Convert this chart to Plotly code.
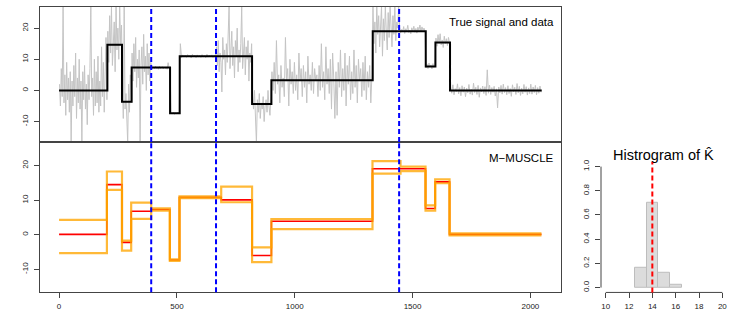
import plotly.graph_objects as go

W, H = 747, 312

# ---------------- data ----------------
# true piecewise-constant signal
signal_bounds = [0, 205, 267, 308, 471, 512, 819, 901, 1331, 1556, 1597, 1659, 2048]
signal_levels = [0, 14.64, -3.66, 7.32, -7.32, 10.98, -4.39, 3.29, 19.03, 7.69, 15.37, 0]

data_bounds = [0, 205, 267, 308, 391, 473, 512, 666, 819, 901, 1330, 1443, 1555, 1597, 1659, 2048]
data_values = [
    [2, -5, 7, -2, 27, -4, 5, -8, 9, -3, 4, -7, 6, -17, 3, -5, 8, -2, 12, -9,
     4, -4, 10, -6, 3, -17, 6, -3, 8, -6, 2, -11, 5, -3, 7, 27, -2, 4, -8, 10,
     -5, 6, -4, 11, -7, 3, -5, 14, -2, 9, -7, 5, 17, -3],
    [19, 9, 24, 12, 27, 8, 17, 22, 6, 27, 13, 20, 10, 27, 15, 21],
    [3, -9, 27, -6, -1, -12, -17, 2, -7, 5, -4],
    [12, 3, 15, 6, 17, 1, 10, 4, 13, -17, 8, 14, 2, 18, 6, 11, 0, 15, 5, 12, 3, 9],
    [7.6, 7.0, 7.5, 6.9, 7.8, 7.1, 7.4, 6.8, 7.7, 7.0, 7.3, 7.6, 6.9, 7.5, 7.1, 7.4, 6.8, 8.9, 7.2, 7.5],
    [-7.2, -7.6, -7.1, -7.7, -7.3, -7.5, -7.0, -7.6],
    [15, 10.5, 11.4, 10.7, 11.3, 10.6, 11.5, 10.8, 11.2, 10.4, 11.6, 10.9, 11.3, 10.5, 11.4, 10.7, 11.2, 10.6, 11.5, 10.8,
     11.1, 10.5, 11.6, 10.7, 11.3, 10.9, 11.4, 10.6, 11.2, 10.8],
    [14, 8, 16, 6, 12, 9, -0.5, 17, 10, 13, 5, 15, 9, 18, 27, 7, 12, 19, 8, 14,
     4, 16, 11, 20, 6, 13, 9, 15, 27, 7, 12, 17, 5, 14, 10, 16, 3, 12, 9, 15],
    [-2, -6, 0, -8, -17, -3, -7, -1, -9, -4, -6, -2, -10, -5, -3, -7, 0, -5, -8, -2],
    [6, 0, 9, -1, 16, 2, 5, -4, 8, 1, 4, -2, 17, 3, 7, -5, 10, 2, 6, -1,
     9, 0, 5, -3, 12, 3, 7, -2, 8, 1, 6, -4, 11, 2, 5, 0, 9, -1, 7, 3,
     5, -2, 8, 0, 15, 1, 6, -3, 14, 2, 7, -1, 10, -6, 12, 4, -9, 6, -8, 9,
     1, 13, -2, 7, 0, 12, -5, 8, 2, 11, -3, 6, -1, 13, 1, 8, -4, 10, 3, 7,
     -2, 9, 0, 11, -3, 6, 1, 8, -4, 5],
    [27, 15, 22, 12, 27, 18, 24, 14, 20, 27, 11, 23, 16, 27, 19, 13, 25, 17, 27, 21,
     14, 24, 18, 27, 16, 22, 20, 27],
    [20.2, 18.5, 19.6, 18.9, 20.5, 18.3, 19.8, 19.1, 20.9, 18.6, 19.4, 18.2, 20.1, 19.0, 20.6, 18.7,
     19.9, 18.4, 20.3, 19.2, 21.0, 18.8, 20.4, 19.3, 20.0, 18.9],
    [7.2, 8.5, 7.0, 8.8, 7.5, 8.2, 6.9, 8.6, 7.4, 8.1],
    [16.8, 14.2, 17.9, 15.1, 18.2, 14.6, 16.2, 13.8, 17.4, 15.0, 16.6, 14.4, 17.0, 15.3],
    [1.2, -0.9, 1.8, -1.4, 0.6, -0.4, 2.1, -1.1, 0.9, -1.7, 1.5, -0.6, 1.1, -2.0, 0.7, -0.8, 1.9, -1.2, 0.4, -1.5,
     2.3, -0.7, 1.0, -1.3, 1.6, -2.2, 0.8, -0.5, 1.4, -1.0, 1.2, -1.6, 6.6, -0.9, 1.7, -1.3, 0.9, -0.6, 1.3, -1.8,
     0.5, -5.6, 1.1, -0.8, 1.6, -1.2, 2.0, -0.7, 0.9, -1.4, 1.5, -1.0, 0.6, -1.9, 1.8, -0.5, 1.0, -1.3, 2.2, -0.8,
     1.3, -1.6, 0.7, -1.1, 1.9, -0.6, 1.2, -1.5, 0.8, -1.0, 2.0, -1.2, 1.1, -0.7, 1.6, -1.4, 0.9, -0.9, 1.4, -0.6],
]

# variance change points (blue dashed)
variance_cps = [391, 666, 1443]

# M-MUSCLE estimate and confidence band
muscle_bounds = [0, 203, 267, 306, 391, 470, 511, 688, 819, 901, 1330, 1449, 1555, 1596, 1657, 2047]
muscle_est = [0.1, 14.5, -2.2, 6.8, 7.3, -7.3, 10.8, 10.1, -6.0, 3.9, 19.1, 19.1, 7.6, 15.3, 0.1]
muscle_upper = [4.3, 18.3, -1.7, 9.3, 7.65, -7.1, 11.1, 13.9, -3.65, 4.5, 21.3, 19.7, 8.5, 16.0, 0.4]
muscle_lower = [-5.3, 13.0, -4.6, 4.6, 7.0, -7.6, 10.6, 9.4, -7.9, 1.6, 17.7, 18.4, 7.0, 14.9, -0.2]

# histogram of K-hat
hist_k = [13, 14, 15, 16]
hist_freq = [0.16, 0.70, 0.12, 0.02]
true_k = 14

main_xticks = [0, 500, 1000, 1500, 2000]
main_yticks = [-10, 0, 10, 20]
hist_xticks = [10, 12, 14, 16, 18, 20]
hist_yticks = [0.0, 0.2, 0.4, 0.6, 0.8, 1.0]

# ---------------- figure ----------------
FONT = "Liberation Sans, Arial, sans-serif"
TICKFONT = dict(family=FONT, size=8, color="#222")
AX = "#444"

def px_x(p):
    return p / W

def px_y(p):
    return 1 - p / H

fig = go.Figure()

# gray data
gx, gy = [], []
for b, vals in enumerate(data_values):
    s, e = data_bounds[b], data_bounds[b + 1]
    n = len(vals)
    for i, v in enumerate(vals):
        gx.append(s + (i + 0.5) * (e - s) / n)
        gy.append(v)
fig.add_trace(go.Scatter(x=gx, y=gy, mode="lines", line=dict(color="#c4c4c4", width=1),
                         xaxis="x", yaxis="y", hoverinfo="skip"))

# true signal
fig.add_trace(go.Scatter(x=signal_bounds, y=signal_levels + [signal_levels[-1]], mode="lines",
                         line=dict(color="black", width=2, shape="hv"), xaxis="x", yaxis="y"))

# M-MUSCLE
fig.add_trace(go.Scatter(x=muscle_bounds, y=muscle_est + [muscle_est[-1]], mode="lines",
                         line=dict(color="red", width=1.6, shape="hv"), xaxis="x2", yaxis="y2"))
for band in (muscle_upper, muscle_lower):
    fig.add_trace(go.Scatter(x=muscle_bounds, y=band + [band[-1]], mode="lines",
                             line=dict(color="rgba(255,165,0,0.78)", width=2.2, shape="hv"),
                             xaxis="x2", yaxis="y2"))

# histogram
fig.add_trace(go.Bar(x=hist_k, y=hist_freq, width=1, marker=dict(color="#dcdcdc",
                     line=dict(color="#bdbdbd", width=1)), xaxis="x3", yaxis="y3"))

xr = [-80.9, 2129.9]
yr = [-16.6, 26.8]
dom_x = [px_x(40), px_x(561)]

common = dict(showgrid=False, zeroline=False, linecolor=AX, linewidth=1, tickcolor=AX,
              ticklen=5, tickwidth=1, tickfont=TICKFONT)

fig.update_layout(
    width=W, height=H, autosize=False,
    margin=dict(l=0, r=0, t=0, b=0),
    paper_bgcolor="white", plot_bgcolor="white",
    showlegend=False, bargap=0,
    font=dict(family=FONT),
    xaxis=dict(domain=dom_x, range=xr, anchor="y", showline=True, mirror=True,
               showticklabels=False, ticks="", **{k: v for k, v in common.items() if k not in ("ticklen",)}),
    yaxis=dict(domain=[px_y(141), px_y(5)], range=yr, anchor="x", showline=True, mirror=True,
               ticks="outside", tickvals=main_yticks, ticktext=[str(v) for v in main_yticks],
               tickangle=-90, ticklabelstandoff=3, **common),
    xaxis2=dict(domain=dom_x, range=xr, anchor="y2", showline=True, mirror=True,
                ticks="outside", tickvals=main_xticks, ticktext=[str(v) for v in main_xticks],
                ticklabelstandoff=1, **common),
    yaxis2=dict(domain=[px_y(292), px_y(141)], range=yr, anchor="x2", showline=True, mirror=True,
                ticks="outside", tickvals=main_yticks, ticktext=[str(v) for v in main_yticks],
                tickangle=-90, ticklabelstandoff=3, **common),
    xaxis3=dict(domain=[px_x(601), px_x(727)], range=[9.6, 20.4], anchor="y3", showline=False,
                ticks="outside", tickvals=hist_xticks, ticktext=[str(v) for v in hist_xticks],
                ticklabelstandoff=1, **common),
    yaxis3=dict(domain=[px_y(292.3), px_y(160.8)], range=[-0.04, 1.04], anchor="x3", showline=False,
                ticks="outside", tickvals=hist_yticks, ticktext=[f"{v:.1f}" for v in hist_yticks],
                tickangle=-90, ticklabelstandoff=3, **common),
)

shapes = []
for cp in variance_cps:
    for xa, ya in (("x", "y domain"), ("x2", "y2 domain")):
        shapes.append(dict(type="line", xref=xa, yref=ya, x0=cp, x1=cp, y0=0, y1=1,
                           line=dict(color="blue", width=2, dash="5px,3px")))
# histogram axis lines (R style: span tick range only)
shapes.append(dict(type="line", xref="x3", yref="y3 domain", x0=10, x1=20, y0=0, y1=0,
                   line=dict(color=AX, width=1)))
shapes.append(dict(type="line", xref="x3 domain", yref="y3", x0=0, x1=0, y0=0, y1=1,
                   line=dict(color=AX, width=1)))
shapes.append(dict(type="line", xref="x3", yref="y3 domain", x0=true_k, x1=true_k, y0=0, y1=1,
                   line=dict(color="red", width=2, dash="5px,3px")))
fig.update_layout(shapes=shapes)

fig.add_annotation(text="True signal and data", xref="paper", yref="paper",
                   x=px_x(555.5), y=px_y(20), xanchor="right", yanchor="middle", showarrow=False,
                   font=dict(family=FONT, size=11.5, color="black"))
fig.add_annotation(text="M\u2212MUSCLE", xref="paper", yref="paper",
                   x=px_x(555.5), y=px_y(157), xanchor="right", yanchor="middle", showarrow=False,
                   font=dict(family=FONT, size=11.5, color="black"))
fig.add_annotation(text="Histrogram of K\u0302", xref="paper", yref="paper",
                   x=px_x(663), y=px_y(154), xanchor="center", yanchor="middle", showarrow=False,
                   font=dict(family=FONT, size=14.5, color="black"))

fig.write_html("out.html", config={"displayModeBar": False},
               post_script="document.body.style.margin='0';document.body.style.padding='0';document.body.style.overflow='hidden';")
